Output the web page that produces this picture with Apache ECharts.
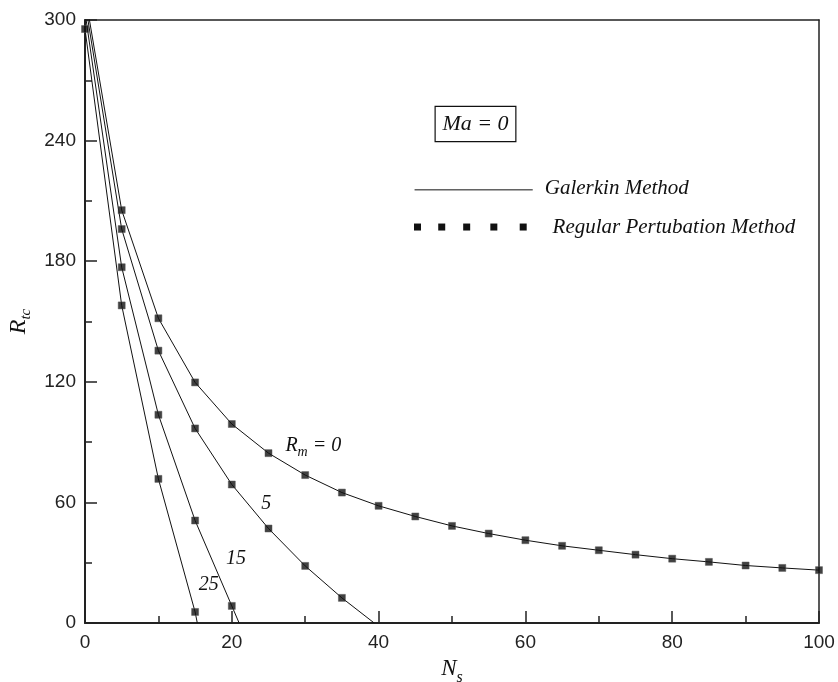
<!DOCTYPE html>
<html>
<head>
<meta charset="utf-8">
<script src="https://cdn.jsdelivr.net/npm/echarts@6/dist/echarts.min.js"></script>
<style>html,body{margin:0;padding:0;background:#fff;}#c{width:838px;height:682px;}</style>
</head>
<body>
<div id="c"></div>
<script>
// ---- data ----
const nsGrid = [0,5,10,15,20,25,30,35,40,45,50,55,60,65,70,75,80,85,90,95,100];
const rpmRm0  = [313, 205.4, 151.6, 119.7, 99.0, 84.5, 73.6, 64.9, 58.3, 53.0, 48.3, 44.5, 41.2, 38.4, 36.2, 34.0, 32.0, 30.4, 28.6, 27.4, 26.3];
const rpmRm5  = [309, 196.0, 135.5, 96.8, 68.9, 47.0, 28.4, 12.5];
const rpmRm15 = [304, 177.0, 103.6, 51.0, 8.5];
const rpmRm25 = [295.5, 158.0, 71.7, 5.5];
const zeroCrossing = { rm5: 39.4, rm15: 21.0, rm25: 15.3 };
const xTicks = [0,20,40,60,80,100];
const yTicks = [0,60,120,180,240,300];

function pairs(vals){ return vals.map((v,i)=>[nsGrid[i], v]); }
function galerkin(vals, zero){ const p = pairs(vals); if (zero != null) p.push([zero, 0]); return p; }

const chart = echarts.init(document.getElementById('c'), null, {renderer:'canvas'});
const serif = '"Liberation Serif", "DejaVu Serif", serif';
const sans = '"Liberation Sans", Arial, sans-serif';

const lineStyle = {color:'#111', width:1};
const markerStyle = {color:'#111', borderColor:'#555', borderWidth:0.6};

const curves = [
  {name:'Rm0', vals:rpmRm0, zero:null},
  {name:'Rm5', vals:rpmRm5, zero:zeroCrossing.rm5},
  {name:'Rm15', vals:rpmRm15, zero:zeroCrossing.rm15},
  {name:'Rm25', vals:rpmRm25, zero:zeroCrossing.rm25}
];
const series = [];
curves.forEach(c=>{
  series.push({type:'line', name:'Galerkin '+c.name, data:galerkin(c.vals,c.zero), showSymbol:false, symbol:'none',
    lineStyle:lineStyle, clip:true, animation:false, silent:true, z:2});
});
curves.forEach(c=>{
  series.push({type:'scatter', name:'RPM '+c.name, data:pairs(c.vals), symbol:'rect', symbolSize:7,
    itemStyle:markerStyle, clip:true, animation:false, silent:true, z:3});
});

const option = {
  animation:false,
  backgroundColor:'#fff',
  grid:{left:85, right:19, top:20, bottom:59, containLabel:false, outerBoundsMode:'none'},
  xAxis:[{
    type:'value', min:0, max:100, interval:20,
    name:'{a|N}{b|s}', nameLocation:'middle', nameGap:34, nameMoveOverlap:false,
    nameTextStyle:{rich:{a:{fontFamily:serif, fontStyle:'italic', fontSize:23, color:'#111', lineHeight:24},
                         b:{fontFamily:serif, fontStyle:'italic', fontSize:16, color:'#111', padding:[17,0,0,0], lineHeight:24}}},
    axisLine:{show:true, onZero:false, lineStyle:{color:'#222', width:2}},
    axisTick:{show:true, inside:true, length:12, lineStyle:{color:'#222', width:1.5}},
    minorTick:{show:true, splitNumber:2, length:7, lineStyle:{color:'#222', width:1.5}},
    splitLine:{show:false},
    axisLabel:{fontFamily:sans, fontSize:19, color:'#222', margin:10,
      formatter:v=> xTicks.indexOf(v)>=0 ? String(v) : ''}
  },{
    type:'value', position:'top', min:0, max:100,
    axisLine:{show:true, onZero:false, lineStyle:{color:'#222', width:1.5}},
    axisTick:{show:false}, axisLabel:{show:false}, splitLine:{show:false}
  }],
  yAxis:[{
    type:'value', min:0, max:300, interval:60,
    name:'{a|R}{b|tc}', nameLocation:'middle', nameGap:53, nameRotate:90,
    nameTextStyle:{rich:{a:{fontFamily:serif, fontStyle:'italic', fontSize:24, color:'#111', lineHeight:24},
                         b:{fontFamily:serif, fontStyle:'italic', fontSize:15, color:'#111', padding:[15,0,0,0], lineHeight:24}}},
    axisLine:{show:true, onZero:false, lineStyle:{color:'#222', width:2}},
    axisTick:{show:true, inside:true, length:12, lineStyle:{color:'#222', width:1.5}},
    minorTick:{show:true, splitNumber:2, length:7, lineStyle:{color:'#222', width:1.5}},
    splitLine:{show:false},
    axisLabel:{fontFamily:sans, fontSize:19, color:'#222', margin:9,
      formatter:v=> yTicks.indexOf(v)>=0 ? String(v) : ''}
  },{
    type:'value', position:'right', min:0, max:300,
    axisLine:{show:true, onZero:false, lineStyle:{color:'#222', width:1.5}},
    axisTick:{show:false}, axisLabel:{show:false}, splitLine:{show:false}
  }],
  series:series
};
chart.setOption(option);

// annotations and legend, positioned from data coordinates
function px(x,y){ return chart.convertToPixel({xAxisIndex:0, yAxisIndex:0}, [x,y]); }
const txt = {fontFamily:serif, fontStyle:'italic', fill:'#111'};
const graphics = [];
function label(pt, text, size, rich){
  graphics.push({type:'text', x:pt[0], y:pt[1], silent:true,
    style:Object.assign({text:text, fontSize:size, textAlign:'left', textVerticalAlign:'middle', rich:rich}, txt)});
}
const subRich = {a:{fontFamily:serif, fontStyle:'italic', fontSize:20, fill:'#111'},
                 b:{fontFamily:serif, fontStyle:'italic', fontSize:14, fill:'#111', padding:[12,0,0,0]}};
label(px(27.3, 88), '{a|R}{b|m}{a| = 0}', 20, subRich);
label(px(24.0, 59.5), '5', 20);
label(px(19.2, 32), '15', 20);
label(px(15.5, 19), '25', 20);

// Ma = 0 box
const boxTL = px(47.7, 257), boxBR = px(58.7, 239.5);
graphics.push({type:'rect', silent:true, shape:{x:boxTL[0], y:boxTL[1], width:boxBR[0]-boxTL[0], height:boxBR[1]-boxTL[1]},
  style:{fill:'#fff', stroke:'#111', lineWidth:1.2}});
graphics.push({type:'text', silent:true, x:(boxTL[0]+boxBR[0])/2, y:(boxTL[1]+boxBR[1])/2,
  style:Object.assign({text:'Ma = 0', fontSize:22, textAlign:'center', textVerticalAlign:'middle'}, txt)});

// legend row 1: line
const l1a = px(44.9, 215.5), l1b = px(61.0, 215.5);
graphics.push({type:'line', silent:true, shape:{x1:l1a[0], y1:l1a[1], x2:l1b[0], y2:l1b[1]}, style:{stroke:'#111', lineWidth:1}});
graphics.push({type:'text', silent:true, x:l1b[0]+12, y:l1a[1]-1,
  style:Object.assign({text:'Galerkin Method', fontSize:21, textAlign:'left', textVerticalAlign:'middle'}, txt)});
// legend row 2: squares
const legendSqNs = [45.3, 48.6, 52.0, 55.7, 59.7];
legendSqNs.forEach(n=>{
  const p = px(n, 197);
  graphics.push({type:'rect', silent:true, shape:{x:p[0]-3.5, y:p[1]-3.5, width:7, height:7}, style:{fill:'#111'}});
});
const l2 = px(63.7, 197);
graphics.push({type:'text', silent:true, x:l2[0], y:l2[1],
  style:Object.assign({text:'Regular Pertubation Method', fontSize:21, textAlign:'left', textVerticalAlign:'middle'}, txt)});

chart.setOption({graphic:graphics});
</script>
</body>
</html>
